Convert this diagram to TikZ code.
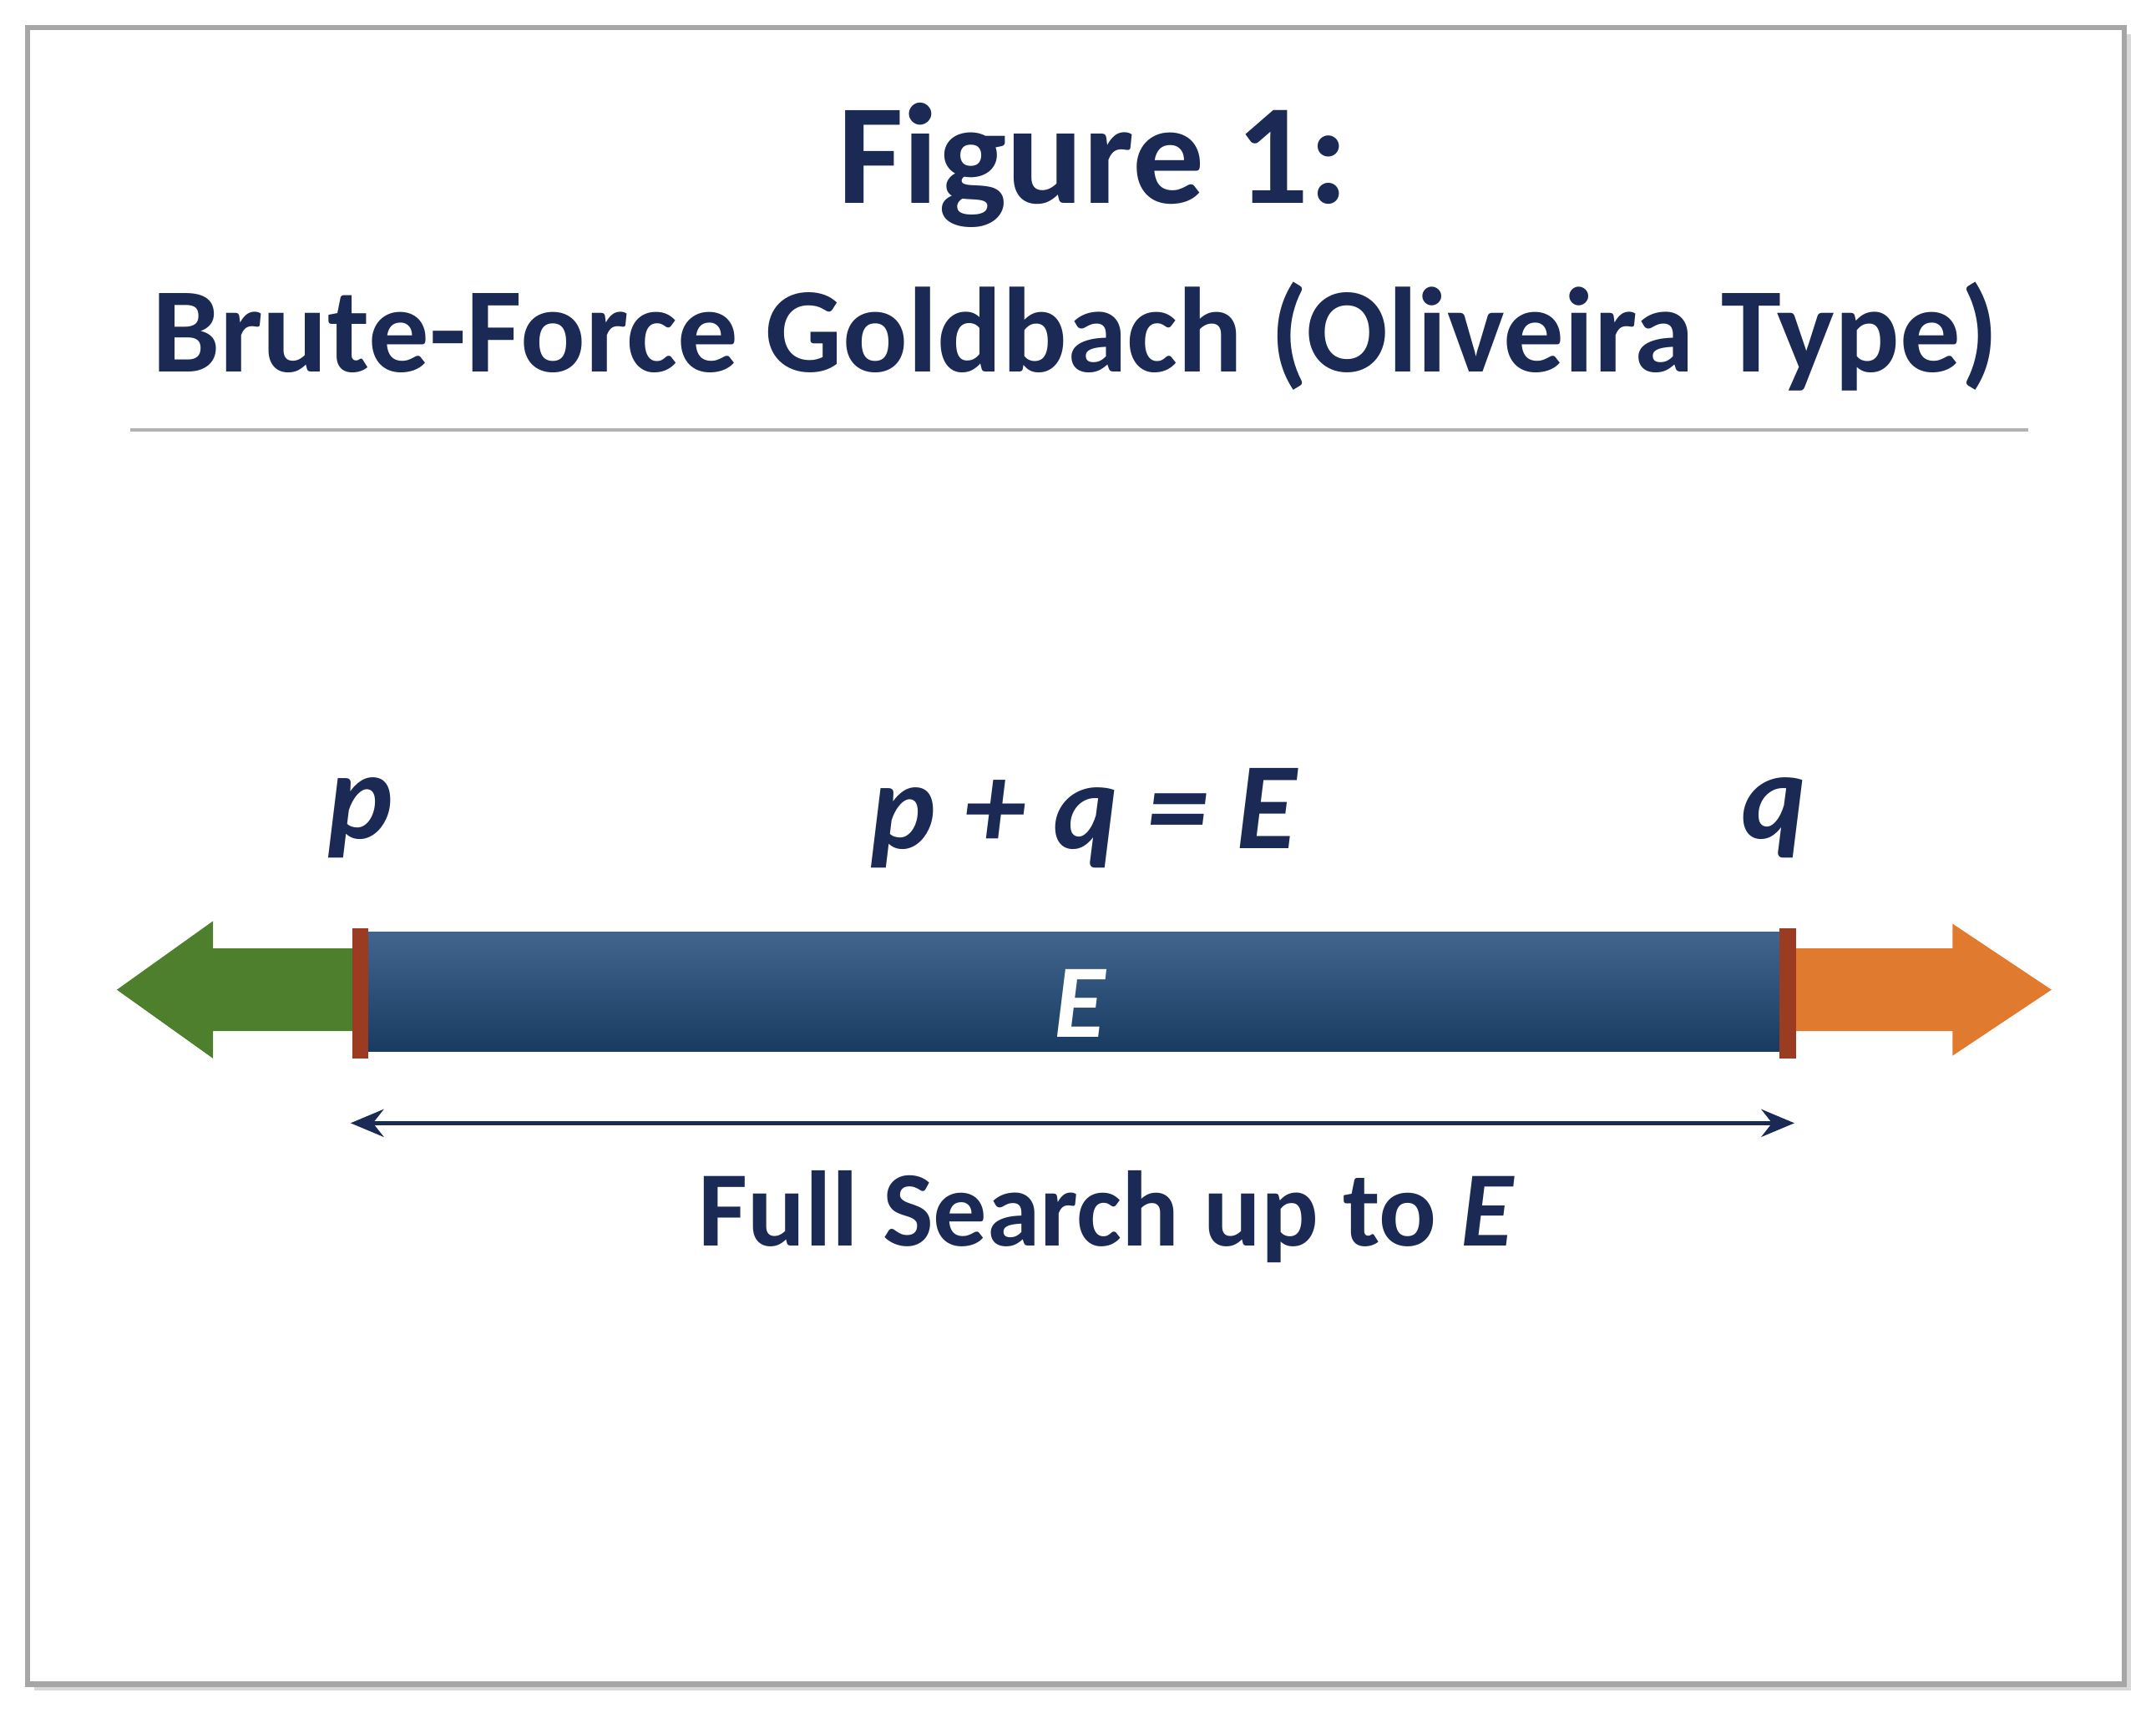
\documentclass[tikz,border=0pt]{standalone}
\usepackage{fontspec}
\setmainfont{Carlito}
\usetikzlibrary{arrows.meta,shadows}
\definecolor{navy}{HTML}{1B2A55}
\definecolor{barblue}{HTML}{1F4A7A}
\definecolor{gr}{HTML}{4E7F2C}
\definecolor{org}{HTML}{E07A2E}
\definecolor{sep}{HTML}{9A3B22}
\tikzset{
 txt/.style={text=navy,font=\bfseries},
 lab/.style={text=navy,font=\bfseries\itshape\fontsize{45}{45}\selectfont},
}
\begin{document}
\begin{tikzpicture}[x=0.5pt,y=-0.5pt]
\useasboundingbox (0,0) rectangle (1568,1246);
\fill[white] (0,0) rectangle (1568,1246);
\draw[gray!70,line width=2pt,drop shadow={opacity=0.3}] (20,20) rectangle (1545,1225);
\fill[white] (22,22) rectangle (1543,1223);
\node[txt,font=\bfseries\fontsize{52}{52}\selectfont] (t1) at (795,120) {Figure 1:};
\node[txt,font=\bfseries\fontsize{44}{44}\selectfont] (t2) at (782,245) {Brute-Force Goldbach (Oliveira Type)};
\draw[gray!60,line width=1.2pt] (95,313) -- (1475,313);
% arrows
\fill[gr] (262,690) -- (155,690) -- (155,670) -- (85,720) -- (155,770) -- (155,750) -- (262,750) -- cycle;
\fill[org] (1300,690) -- (1420,690) -- (1420,672) -- (1492,720) -- (1420,768) -- (1420,750) -- (1300,750) -- cycle;
\shade[top color=barblue!85!white,bottom color=barblue!80!black] (262,678) rectangle (1300,765);
\fill[sep] (256,675) rectangle (268,770);
\fill[sep] (1294,675) rectangle (1306,770);
\node[font=\bfseries\itshape\fontsize{38}{38}\selectfont,text=white] (e) at (785,730) {E};
\node[lab] (p) at (262,595) {p};
\node[lab] (pq) at (788,595) {p + q = E};
\node[lab] (q) at (1290,595) {q};
\coordinate (l) at (255,817);
\coordinate (r) at (1305,817);
\draw[navy,line width=1.5pt,{Stealth[length=12pt,width=10pt]}-{Stealth[length=12pt,width=10pt]}] (l) -- (r);
\node[txt,font=\bfseries\fontsize{39}{39}\selectfont] (fs) at (805,885) {Full Search up to \textit{E}};
\end{tikzpicture}
\end{document}
